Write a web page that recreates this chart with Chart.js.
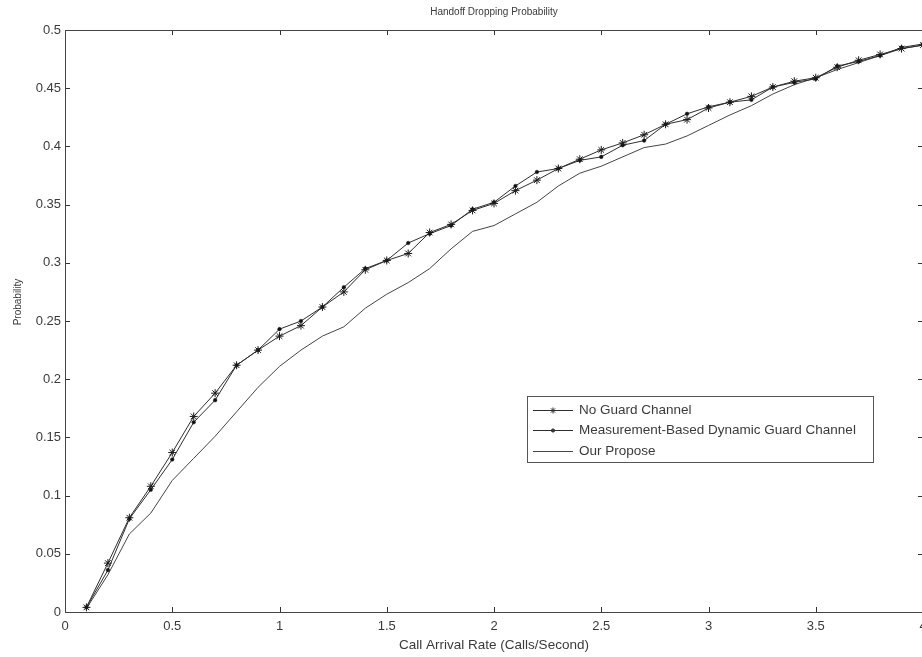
<!DOCTYPE html>
<html>
<head>
<meta charset="utf-8">
<script src="https://cdn.jsdelivr.net/npm/chart.js@4.4.1/dist/chart.umd.min.js"></script>
<style>
  html, body { margin: 0; padding: 0; background: #fff; overflow: hidden; }
  #wrap { width: 940px; height: 657px; }
</style>
</head>
<body>
<div id="wrap"><canvas id="c" width="940" height="657"></canvas></div>
<script>
// ---- data ----
const chartTitle = 'Handoff Dropping Probability';
const xAxisTitle = 'Call Arrival Rate (Calls/Second)';
const yAxisTitle = 'Probability';
const seriesNames = ['No Guard Channel', 'Measurement-Based Dynamic Guard Channel', 'Our Propose'];

const arrivalRates = [0.1, 0.2, 0.3, 0.4, 0.5, 0.6, 0.7, 0.8, 0.9, 1.0,
                      1.1, 1.2, 1.3, 1.4, 1.5, 1.6, 1.7, 1.8, 1.9, 2.0,
                      2.1, 2.2, 2.3, 2.4, 2.5, 2.6, 2.7, 2.8, 2.9, 3.0,
                      3.1, 3.2, 3.3, 3.4, 3.5, 3.6, 3.7, 3.8, 3.9, 4.0];

const noGuard = [0.004, 0.042, 0.081, 0.108, 0.137, 0.168, 0.188, 0.212, 0.225, 0.237,
                 0.246, 0.262, 0.275, 0.294, 0.302, 0.308, 0.326, 0.333, 0.345, 0.351,
                 0.362, 0.371, 0.381, 0.389, 0.397, 0.403, 0.410, 0.419, 0.423, 0.433,
                 0.438, 0.443, 0.451, 0.456, 0.459, 0.468, 0.474, 0.479, 0.484, 0.487];

const measurementBased = [0.004, 0.036, 0.080, 0.105, 0.131, 0.163, 0.182, 0.212, 0.225, 0.243,
                          0.250, 0.262, 0.279, 0.295, 0.302, 0.317, 0.325, 0.332, 0.346, 0.352,
                          0.366, 0.378, 0.381, 0.388, 0.391, 0.401, 0.405, 0.419, 0.428, 0.434,
                          0.438, 0.440, 0.451, 0.455, 0.458, 0.469, 0.473, 0.478, 0.485, 0.488];

const ourPropose = [0.003, 0.032, 0.067, 0.085, 0.113, 0.132, 0.151, 0.172, 0.193, 0.211,
                    0.225, 0.237, 0.245, 0.261, 0.273, 0.283, 0.295, 0.312, 0.327, 0.332,
                    0.342, 0.352, 0.366, 0.377, 0.383, 0.391, 0.399, 0.402, 0.409, 0.418,
                    0.427, 0.435, 0.445, 0.453, 0.459, 0.466, 0.472, 0.478, 0.484, 0.487];

const xTickLabels = ['0', '0.5', '1', '1.5', '2', '2.5', '3', '3.5', '4'];
const yTickLabels = ['0', '0.05', '0.1', '0.15', '0.2', '0.25', '0.3', '0.35', '0.4', '0.45', '0.5'];

// ---- build chart ----
function toPoints(vals) { return arrivalRates.map((x, i) => ({ x: x, y: vals[i] })); }

const FONT = '"Liberation Sans", Arial, sans-serif';
const TEXT = '#3a3a3a';

const frameAndTicks = {
  id: 'frameAndTicks',
  afterDatasetsDraw(chart) {
    const { ctx, chartArea: a, scales } = chart;
    ctx.save();
    ctx.strokeStyle = '#333';
    ctx.lineWidth = 1;
    ctx.beginPath();
    const L = 5;
    scales.x.ticks.forEach(t => {
      const px = Math.round(scales.x.getPixelForValue(t.value)) + 0.5;
      ctx.moveTo(px, a.bottom); ctx.lineTo(px, a.bottom - L);
      ctx.moveTo(px, a.top); ctx.lineTo(px, a.top + L);
    });
    scales.y.ticks.forEach(t => {
      const py = Math.round(scales.y.getPixelForValue(t.value)) + 0.5;
      ctx.moveTo(a.left, py); ctx.lineTo(a.left + L, py);
      ctx.moveTo(a.right, py); ctx.lineTo(a.right - L, py);
    });
    ctx.stroke();
    ctx.strokeStyle = '#444';
    ctx.strokeRect(Math.round(a.left) + 0.5, Math.round(a.top) + 0.5,
                   Math.round(a.right - a.left), Math.round(a.bottom - a.top));

    // main title and y title
    ctx.fillStyle = TEXT;
    ctx.font = '10px ' + FONT;
    ctx.textAlign = 'center';
    ctx.textBaseline = 'middle';
    ctx.fillText(chartTitle, (a.left + a.right) / 2, 12);
    ctx.save();
    ctx.translate(18, 302);
    ctx.rotate(-Math.PI / 2);
    ctx.font = '10px ' + FONT;
    ctx.fillText(yAxisTitle, 0, 0);
    ctx.restore();

    // legend box
    const bx = 527, by = 396, bw = 346, bh = 66;
    ctx.fillStyle = '#fff';
    ctx.fillRect(bx, by, bw, bh);
    ctx.strokeStyle = '#555';
    ctx.strokeRect(bx + 0.5, by + 0.5, bw, bh);
    const rows = [410, 430, 451];
    chart.data.datasets.forEach((ds, i) => {
      const y = rows[i] + 0.5;
      ctx.strokeStyle = ds.borderColor;
      ctx.lineWidth = 1;
      ctx.beginPath();
      ctx.moveTo(533, y); ctx.lineTo(573, y);
      ctx.stroke();
      if (ds.pointRadius > 0) {
        const r = i === 0 ? 3 : 1.6;
        Chart.helpers.drawPoint(ctx, {
          pointStyle: ds.pointStyle, radius: r, borderWidth: 1
        }, 553, y);
      }
      ctx.fillStyle = TEXT;
      ctx.font = '13.5px ' + FONT;
      ctx.textAlign = 'left';
      ctx.textBaseline = 'middle';
      ctx.fillText(ds.label, 579, y);
    });
    ctx.restore();
  }
};

new Chart(document.getElementById('c'), {
  type: 'line',
  data: {
    datasets: [
      {
        label: seriesNames[0], data: toPoints(noGuard),
        borderColor: '#2e2e2e', borderWidth: 1, pointStyle: 'star',
        pointRadius: 4, pointBorderColor: '#1a1a1a', pointBackgroundColor: '#1a1a1a',
        pointBorderWidth: 1, tension: 0, fill: false
      },
      {
        label: seriesNames[1], data: toPoints(measurementBased),
        borderColor: '#2e2e2e', borderWidth: 1, pointStyle: 'circle',
        pointRadius: 1.8, pointBorderColor: '#111', pointBackgroundColor: '#111',
        pointBorderWidth: 0.5, tension: 0, fill: false
      },
      {
        label: seriesNames[2], data: toPoints(ourPropose),
        borderColor: '#444', borderWidth: 1, pointRadius: 0,
        tension: 0, fill: false
      }
    ]
  },
  options: {
    responsive: false,
    animation: false,
    events: [],
    layout: { padding: { top: 30, right: 17, bottom: 0, left: 0 } },
    plugins: { legend: { display: false }, title: { display: false }, tooltip: { enabled: false } },
    scales: {
      x: {
        type: 'linear', min: 0, max: 4,
        grid: { display: false, drawTicks: false },
        border: { display: false },
        ticks: {
          stepSize: 0.5, padding: 7, color: TEXT, maxRotation: 0, autoSkip: false,
          font: { family: FONT, size: 13 },
          callback: (v, i) => xTickLabels[i]
        },
        title: { display: true, text: xAxisTitle, color: TEXT, font: { family: FONT, size: 13.5 }, padding: { top: 0 } },
        afterFit(s) { s.height = 45; }
      },
      y: {
        type: 'linear', min: 0, max: 0.5,
        grid: { display: false, drawTicks: false },
        border: { display: false },
        ticks: {
          stepSize: 0.05, padding: 4, color: TEXT, autoSkip: false,
          font: { family: FONT, size: 13 },
          callback: (v, i) => yTickLabels[i]
        },
        afterFit(s) { s.width = 65; }
      }
    }
  },
  plugins: [frameAndTicks]
});
</script>
</body>
</html>
